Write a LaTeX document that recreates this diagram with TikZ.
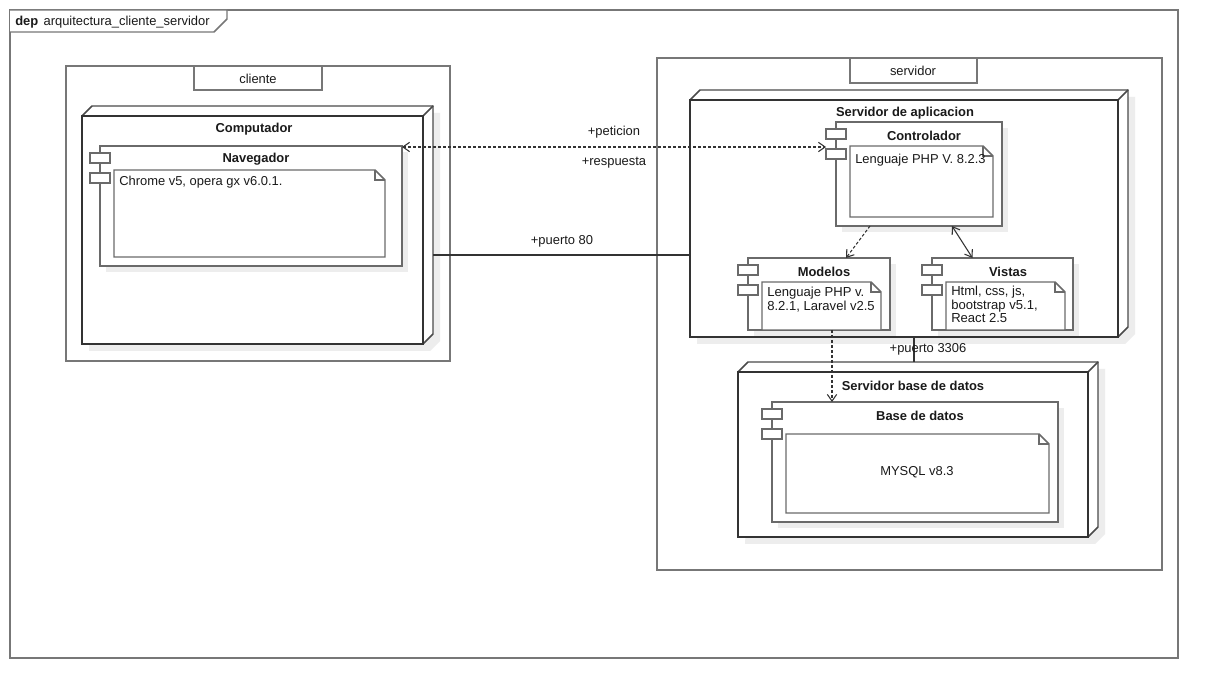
\documentclass[tikz,border=0pt]{standalone}
\usepackage{fontspec}
\setmainfont{Liberation Sans}
\usetikzlibrary{arrows.meta,fit,calc}
\definecolor{framec}{HTML}{777777}
\definecolor{edgec}{HTML}{333333}
\definecolor{backc}{HTML}{4A4A4A}
\definecolor{compc}{HTML}{6A6A6A}
\definecolor{shadc}{HTML}{EDEDED}
\definecolor{txtc}{HTML}{1A1A1A}
\tikzset{
  lw/.style={line width=1.1pt},
  framebox/.style={draw=framec, lw, inner sep=0pt, outer sep=0pt},
  pkgbox/.style={draw=framec, lw, fill=white, inner sep=0pt, outer sep=0pt},
  face/.style={draw=edgec, line width=1.3pt, fill=white, inner sep=0pt, outer sep=0pt},
  compbox/.style={draw=compc, lw, fill=white, inner sep=0pt, outer sep=0pt},
  notebox/.style={inner sep=0pt, outer sep=0pt},
  notepath/.style={draw=compc, lw, fill=white, line join=miter},
  lbl/.style={font=\fontsize{9.7}{10.5}\selectfont, text=txtc, inner sep=0pt, yshift=-1.1pt},
  blbl/.style={font=\fontsize{9.7}{10.5}\selectfont\bfseries, text=txtc, inner sep=0pt, yshift=-1.1pt},
  notetxt/.style={font=\fontsize{9.8}{10}\selectfont, text=txtc, inner sep=0pt, align=left},
  conn/.style={draw=edgec, line width=0.8pt},
  dotconn/.style={conn, dash pattern=on 2.25pt off 1.5pt},
  barb/.tip={Straight Barb[length=5pt,width=7pt]},
}
\newcommand\udcube[5]{%
  \fill[shadc] ({#2+17},{#3-3}) -- ({#4+17},{#3-3}) -- ({#4+17},{#5-3}) -- ({#4+7},{#5+7}) -- ({#2+7},{#5+7}) -- cycle;
  \filldraw[fill=white, draw=backc, lw, line join=miter] (#2,#3) -- ({#2+10},{#3-10}) -- ({#4+10},{#3-10}) -- ({#4+10},{#5-10}) -- (#4,#5);
  \draw[backc, lw] (#4,#3) -- ({#4+10},{#3-10});
  \node[face, fit={(#2,#3) (#4,#5)}] (#1) {};
}
\newcommand\udcomp[5]{%
  \fill[shadc] ({#2+6},{#3+6}) rectangle ({#4+6},{#5+6});
  \node[compbox, fit={(#2,#3) (#4,#5)}] (#1) {};
  \draw[compbox] ({#2-10},{#3+7}) rectangle ({#2+10},{#3+17});
  \draw[compbox] ({#2-10},{#3+27}) rectangle ({#2+10},{#3+37});
}
\newcommand\udnote[5]{%
  \node[notebox, fit={(#2,#3) (#4,#5)}] (#1) {};
  \draw[notepath] (#1.north west) -- ([shift={(-10,0)}]#1.north east) -- ([shift={(0,10)}]#1.north east) -- (#1.south east) -- (#1.south west) -- cycle;
  \draw[compc, lw] ([shift={(-10,0)}]#1.north east) -- ++(0,10) -- ++(10,0);
}
\begin{document}
\begin{tikzpicture}[x=0.75pt,y=-0.75pt]
\useasboundingbox[fill=white] (0,0) rectangle (1218,698);
% frame
\node[framebox, fit={(10,10) (1178,658)}] (frame) {};
\draw[framec, lw, fill=white, line join=miter] (frame.north west) -- ++(217,0) -- ++(0,9) -- ++(-13,13) -- ++(-204,0);
\node[lbl, anchor=west] (title) at (15,21) {\textbf{dep}\hspace{4pt}arquitectura\_cliente\_servidor};
% packages
\node[pkgbox, fit={(66,66) (450,361)}] (cliente) {};
\node[pkgbox, fit={(194,66) (322,90)}] (clientetab) {};
\node[lbl] (clientelbl) at (258,77) {cliente};
\node[pkgbox, fit={(657,58) (1162,570)}] (servidor) {};
\node[pkgbox, fit={(850,58) (977,83)}] (servidortab) {};
\node[lbl] (servidorlbl) at (913,69) {servidor};
% 3D nodes
\udcube{comp}{82}{116}{423}{344}
\udcube{appsrv}{690}{100}{1118}{337}
\udcube{dbsrv}{738}{372}{1088}{537}
% components
\udcomp{nav}{100}{146}{402}{266}
\udcomp{ctrl}{836}{122}{1002}{226}
\udcomp{modelos}{748}{258}{890}{330}
\udcomp{vistas}{932}{258}{1073}{330}
\udcomp{bd}{772}{402}{1058}{522}
% notes
\udnote{navnote}{114}{170}{385}{257}
\udnote{ctrlnote}{850}{146}{993}{217}
\udnote{modnote}{762}{282}{881}{330}
\udnote{visnote}{946}{282}{1065}{330}
\udnote{bdnote}{786}{434}{1049}{513}
% titles
\node[blbl] (complbl) at (254,128) {Computador};
\node[blbl] (navlbl) at (256,158) {Navegador};
\node[blbl] (appsrvlbl) at (905,112) {Servidor de aplicacion};
\node[blbl] (ctrllbl) at (924,134) {Controlador};
\node[blbl] (modeloslbl) at (824,270) {Modelos};
\node[blbl] (vistaslbl) at (1008,270) {Vistas};
\node[blbl] (dbsrvlbl) at (913,384) {Servidor base de datos};
\node[blbl] (bdlbl) at (920,414) {Base de datos};
% note texts
\node[lbl, anchor=base west] (navtxt) at (119,184) {Chrome v5, opera gx v6.0.1.};
\node[lbl, anchor=base west] (ctrltxt) at (855,162) {Lenguaje PHP V. 8.2.3};
\node[notetxt, anchor=north west] (modtxt) at (767,287) {Lenguaje PHP v.\\8.2.1, Laravel v2.5};
\node[notetxt, anchor=north west] (vistxt) at (951,286) {Html, css, js,\\bootstrap v5.1,\\React 2.5};
\node[lbl] (bdtxt) at (917,471) {MYSQL v8.3};
% connectors
\draw[dotconn, barb-barb] ([shift={(0,1)}]nav.north east) -- ([shift={(-10,25)}]ctrl.north west);
\node[lbl] (pet) at (614,131) {+peticion};
\node[lbl] (resp) at (614,161) {+respuesta};
\draw[conn] ([shift={(10,25)}]comp.east) coordinate (p80) -- (p80 -| appsrv.west);
\node[lbl] (p80lbl) at (562,240) {+puerto 80};
\draw[conn] ([shift={(1,-10)}]dbsrv.north) coordinate (p33) -- (p33 |- appsrv.south);
\node[lbl] (p33lbl) at (928,348) {+puerto 3306};
\draw[dotconn, -barb] ([shift={(-49,0)}]ctrl.south) -- ([shift={(27,0)}]modelos.north);
\draw[conn, barb-barb] ([shift={(33,0)}]ctrl.south) -- ([shift={(-30,0)}]vistas.north);
\draw[dotconn, -barb] ([shift={(13,0)}]modelos.south) coordinate (m1) -- (m1 |- bd.north);
\end{tikzpicture}
\end{document}
